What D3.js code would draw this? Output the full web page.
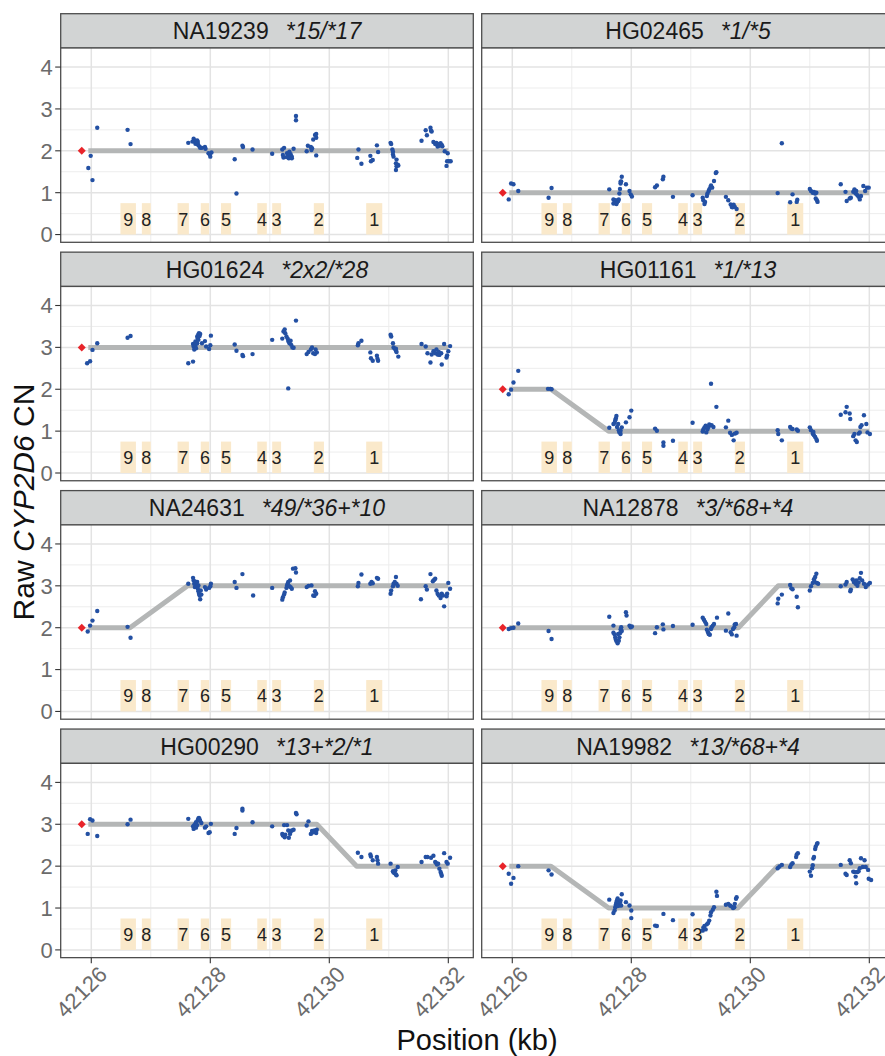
<!DOCTYPE html>
<html>
<head>
<meta charset="utf-8">
<script src="https://cdn.jsdelivr.net/npm/d3@7"></script>
<style>
  body { margin: 0; background: #fff; }
  svg { font-family: "Liberation Sans", Arial, sans-serif; }
</style>
</head>
<body>
<div id="chart"></div>
<script>
let samples = ['NA19239', 'HG02465', 'HG01624', 'HG01161', 'NA24631', 'NA12878', 'HG00290', 'NA19982']
let genotypes = ['*15/*17', '*1/*5', '*2x2/*28', '*1/*13', '*49/*36+*10', '*3/*68+*4', '*13+*2/*1', '*13/*68+*4']

let exonLabels = ['9', '8', '7', '6', '5', '4', '3', '2', '1']
let exonStart = [42126.49, 42126.85, 42127.45, 42127.84, 42128.18, 42128.79, 42129.04, 42129.74, 42130.62]
let exonEnd = [42126.75, 42127.00, 42127.64, 42127.98, 42128.35, 42128.95, 42129.19, 42129.91, 42130.89]
let exonTop = 0.75

let xTicks = [42126, 42128, 42130, 42132]
let xMinor = [42127, 42129, 42131]
let yTicks = [0, 1, 2, 3, 4]
let yMinor = [0.5, 1.5, 2.5, 3.5]

let diamondPos = 42125.84

// copy number calls (breakpoints of the grey line)
let cnCalls = [
    [[42125.95, 2], [42132, 2]],
    [[42125.95, 1], [42132, 1]],
    [[42125.95, 3], [42132, 3]],
    [[42125.95, 2], [42126.65, 2], [42127.62, 1], [42132, 1]],
    [[42125.95, 2], [42126.65, 2], [42127.62, 3], [42132, 3]],
    [[42125.95, 2], [42129.80, 2], [42130.47, 3], [42132, 3]],
    [[42125.95, 3], [42129.79, 3], [42130.46, 2], [42132, 2]],
    [[42125.95, 2], [42126.65, 2], [42127.62, 1], [42129.79, 1], [42130.46, 2], [42132, 2]]
]

let ptsNA19239 = [[42125.95,1.59],[42125.99,1.88],[42126.02,1.30],[42126.10,2.55],[42126.61,2.50],[42126.66,2.16],[42127.63,2.19],[42127.72,2.29],[42127.74,2.25],[42127.75,2.21],[42127.77,2.19],[42127.79,2.16],[42127.80,2.13],[42127.82,2.10],[42127.83,2.07],[42127.75,2.17],[42127.78,2.25],[42127.70,2.22],[42127.79,2.21],[42127.86,2.07],[42127.91,2.09],[42127.92,2.05],[42127.97,1.94],[42127.99,1.92],[42128.00,1.86],[42128.02,1.96],[42128.41,1.80],[42128.44,0.98],[42128.54,2.12],[42128.55,2.09],[42128.71,2.03],[42129.04,1.93],[42129.21,2.03],[42129.24,2.07],[42129.22,1.90],[42129.23,1.84],[42129.29,1.94],[42129.31,1.87],[42129.33,1.98],[42129.35,1.92],[42129.37,1.86],[42129.32,1.82],[42129.28,1.85],[42129.37,1.82],[42129.40,2.05],[42129.44,2.83],[42129.44,2.73],[42129.62,1.99],[42129.64,2.12],[42129.69,2.09],[42129.70,2.02],[42129.71,2.06],[42129.73,2.27],[42129.76,2.38],[42129.78,2.40],[42129.78,2.31],[42129.78,1.89],[42130.49,2.03],[42130.47,1.83],[42130.54,1.69],[42130.69,1.88],[42130.70,1.75],[42130.73,1.78],[42130.80,2.13],[42130.82,1.97],[42131.03,2.19],[42131.04,2.16],[42131.06,2.03],[42131.07,1.98],[42131.07,1.91],[42131.08,1.86],[42131.12,1.70],[42131.13,1.63],[42131.15,1.67],[42131.12,1.54],[42131.13,1.79],[42131.16,1.65],[42131.55,2.24],[42131.62,2.49],[42131.64,2.37],[42131.70,2.55],[42131.71,2.48],[42131.72,2.46],[42131.75,2.21],[42131.78,2.16],[42131.80,2.19],[42131.82,2.10],[42131.83,2.16],[42131.85,2.12],[42131.87,2.18],[42131.89,2.14],[42131.90,2.11],[42131.94,1.99],[42131.99,1.94],[42131.98,1.75],[42131.97,1.64],[42132.01,1.75],[42132.04,1.75]]

let ptsHG02465 = [[42125.94,0.84],[42125.98,1.22],[42126.02,1.20],[42126.10,1.04],[42126.61,0.88],[42126.66,1.11],[42127.63,1.08],[42127.70,0.84],[42127.72,0.78],[42127.74,0.82],[42127.76,0.77],[42127.78,0.80],[42127.70,0.74],[42127.75,0.73],[42127.79,0.84],[42127.80,0.98],[42127.81,1.09],[42127.82,1.22],[42127.83,1.27],[42127.84,1.38],[42127.82,1.26],[42127.91,1.20],[42127.97,1.04],[42127.99,0.96],[42128.01,0.91],[42128.40,1.13],[42128.43,1.17],[42128.53,1.32],[42128.54,1.38],[42128.70,0.90],[42129.03,0.94],[42129.20,0.88],[42129.21,0.82],[42129.23,0.73],[42129.24,0.78],[42129.27,0.92],[42129.28,0.98],[42129.30,1.04],[42129.31,1.08],[42129.33,1.13],[42129.34,1.17],[42129.36,1.12],[42129.39,1.28],[42129.42,1.47],[42129.43,1.49],[42129.59,0.90],[42129.63,0.82],[42129.67,0.72],[42129.69,0.66],[42129.72,0.71],[42129.74,0.66],[42129.77,0.61],[42129.70,0.65],[42130.53,2.18],[42130.46,0.99],[42130.67,0.77],[42130.71,0.96],[42130.78,0.78],[42130.79,0.83],[42131.00,1.09],[42131.02,1.04],[42131.05,1.00],[42131.07,1.02],[42131.09,0.98],[42131.11,1.00],[42131.10,0.86],[42131.12,0.82],[42131.13,0.78],[42131.52,1.20],[42131.60,1.02],[42131.62,0.80],[42131.67,0.86],[42131.69,0.88],[42131.73,1.02],[42131.75,1.08],[42131.77,0.98],[42131.78,1.04],[42131.80,0.94],[42131.82,0.90],[42131.84,0.84],[42131.86,0.92],[42131.90,1.16],[42131.93,1.04],[42131.96,1.12],[42131.99,1.12]]

let ptsHG01624 = [[42125.93,2.62],[42125.98,2.67],[42126.02,2.94],[42126.10,3.10],[42126.61,3.23],[42126.66,3.27],[42127.63,2.62],[42127.71,2.66],[42127.71,3.08],[42127.72,3.02],[42127.73,2.95],[42127.75,3.14],[42127.75,3.04],[42127.76,2.98],[42127.78,3.26],[42127.79,3.22],[42127.80,3.31],[42127.81,3.34],[42127.82,3.27],[42127.83,3.32],[42127.80,3.18],[42127.78,3.10],[42127.86,3.10],[42127.91,3.15],[42127.93,3.02],[42127.98,2.96],[42128.01,3.28],[42128.00,3.05],[42128.41,3.07],[42128.44,2.92],[42128.54,2.82],[42128.55,2.79],[42128.71,2.84],[42129.04,3.18],[42129.21,3.21],[42129.23,3.38],[42129.25,3.43],[42129.26,3.34],[42129.28,3.26],[42129.30,3.21],[42129.31,3.15],[42129.33,3.10],[42129.35,3.16],[42129.36,3.06],[42129.38,3.00],[42129.40,2.99],[42129.31,2.02],[42129.44,3.64],[42129.62,2.84],[42129.65,2.89],[42129.69,2.95],[42129.71,3.00],[42129.73,2.86],[42129.77,2.95],[42129.79,2.88],[42129.76,2.84],[42130.48,3.05],[42130.49,3.10],[42130.54,3.16],[42130.69,2.88],[42130.70,2.74],[42130.73,2.68],[42130.80,2.80],[42130.81,2.73],[42130.82,2.68],[42131.03,3.30],[42131.04,3.26],[42131.07,3.10],[42131.08,3.00],[42131.10,2.97],[42131.12,2.92],[42131.13,2.89],[42131.16,2.78],[42131.12,2.97],[42131.55,3.08],[42131.62,3.02],[42131.65,2.86],[42131.70,2.64],[42131.72,2.83],[42131.75,2.91],[42131.78,2.86],[42131.80,2.95],[42131.82,2.83],[42131.84,2.89],[42131.85,2.82],[42131.88,2.86],[42131.89,2.59],[42131.93,3.08],[42131.97,2.76],[42131.98,2.81],[42132.00,2.91],[42132.03,3.03]]

let ptsHG01161 = [[42125.94,1.88],[42125.98,1.99],[42126.02,2.16],[42126.10,2.44],[42126.60,2.01],[42126.64,2.01],[42126.66,2.00],[42127.63,1.08],[42127.70,1.17],[42127.72,1.20],[42127.74,1.30],[42127.75,1.36],[42127.73,1.26],[42127.76,1.10],[42127.78,1.17],[42127.79,1.02],[42127.80,0.97],[42127.82,0.93],[42127.82,1.01],[42127.84,1.09],[42127.91,1.21],[42127.97,1.33],[42128.00,1.49],[42128.40,1.06],[42128.43,1.01],[42128.54,0.73],[42128.54,0.65],[42128.70,0.77],[42129.03,1.20],[42129.20,0.99],[42129.21,1.04],[42129.23,1.09],[42129.25,1.13],[42129.26,0.97],[42129.28,1.04],[42129.30,1.10],[42129.31,1.16],[42129.34,2.13],[42129.35,1.14],[42129.38,1.10],[42129.43,1.58],[42129.59,1.09],[42129.63,1.25],[42129.66,0.96],[42129.69,0.91],[42129.72,0.78],[42129.74,0.94],[42129.77,0.96],[42130.46,1.02],[42130.47,0.93],[42130.53,0.78],[42130.67,1.10],[42130.69,1.06],[42130.71,1.05],[42130.78,1.04],[42130.80,1.01],[42131.00,1.09],[42131.02,1.02],[42131.05,0.94],[42131.07,0.90],[42131.09,0.86],[42131.11,0.81],[42131.12,0.77],[42131.06,0.98],[42131.52,1.39],[42131.60,1.45],[42131.62,1.58],[42131.67,1.42],[42131.68,1.29],[42131.73,0.88],[42131.75,0.93],[42131.77,0.78],[42131.79,0.74],[42131.82,0.94],[42131.84,0.97],[42131.85,1.10],[42131.87,1.14],[42131.91,1.38],[42131.95,1.17],[42131.97,0.97],[42132.01,0.93]]

let ptsNA24631 = [[42125.94,1.91],[42125.98,2.05],[42126.02,2.17],[42126.10,2.40],[42126.61,2.02],[42126.66,1.76],[42127.63,3.05],[42127.71,3.19],[42127.72,3.13],[42127.73,3.05],[42127.74,2.97],[42127.75,3.10],[42127.76,3.03],[42127.78,2.99],[42127.79,2.93],[42127.80,2.87],[42127.81,2.81],[42127.82,2.77],[42127.83,2.68],[42127.84,2.89],[42127.85,2.79],[42127.80,3.01],[42127.78,3.09],[42127.91,2.97],[42127.93,2.91],[42127.98,2.95],[42128.00,2.99],[42128.01,3.05],[42128.41,3.09],[42128.44,2.95],[42128.54,3.28],[42128.72,2.77],[42129.04,2.95],[42129.21,2.67],[42129.22,2.73],[42129.24,2.79],[42129.25,2.84],[42129.28,2.95],[42129.29,3.01],[42129.30,3.05],[42129.31,3.09],[42129.34,3.13],[42129.35,2.97],[42129.37,2.93],[42129.39,3.41],[42129.43,3.42],[42129.44,3.32],[42129.33,2.99],[42129.62,2.97],[42129.65,3.00],[42129.70,3.01],[42129.73,2.77],[42129.76,2.87],[42129.78,2.81],[42129.75,2.76],[42130.48,2.99],[42130.49,3.07],[42130.54,3.27],[42130.69,3.05],[42130.71,3.09],[42130.73,3.06],[42130.80,3.19],[42130.82,3.17],[42131.03,2.81],[42131.04,2.89],[42131.07,2.99],[42131.08,3.05],[42131.10,3.09],[42131.12,3.21],[42131.13,3.05],[42131.15,3.00],[42131.54,2.68],[42131.62,2.99],[42131.64,2.91],[42131.70,3.28],[42131.74,3.11],[42131.76,3.14],[42131.78,3.17],[42131.80,2.89],[42131.82,2.81],[42131.84,2.77],[42131.87,2.71],[42131.89,2.81],[42131.91,2.77],[42131.93,2.51],[42131.97,2.75],[42131.98,2.81],[42132.00,3.07],[42132.03,2.93]]

let ptsNA12878 = [[42125.94,1.97],[42125.98,1.99],[42126.02,2.00],[42126.10,2.10],[42126.61,1.92],[42126.66,1.73],[42127.63,2.26],[42127.70,2.05],[42127.70,1.88],[42127.72,1.84],[42127.73,1.77],[42127.74,1.72],[42127.75,1.68],[42127.77,1.63],[42127.79,1.69],[42127.80,1.77],[42127.81,1.87],[42127.82,1.96],[42127.83,2.01],[42127.84,1.92],[42127.78,1.85],[42127.91,2.37],[42127.92,2.29],[42127.97,2.05],[42127.99,2.01],[42128.01,2.03],[42128.40,1.87],[42128.43,2.01],[42128.53,2.08],[42128.54,1.96],[42128.70,2.04],[42129.03,2.07],[42129.20,2.24],[42129.22,2.19],[42129.24,2.14],[42129.26,2.09],[42129.27,1.95],[42129.29,1.89],[42129.30,1.85],[42129.32,1.83],[42129.34,1.97],[42129.35,2.01],[42129.37,2.05],[42129.39,2.09],[42129.44,2.24],[42129.59,1.93],[42129.63,2.34],[42129.67,1.89],[42129.69,1.84],[42129.71,1.97],[42129.73,2.01],[42129.74,2.08],[42129.76,2.09],[42129.77,1.81],[42130.46,2.58],[42130.47,2.69],[42130.53,2.79],[42130.67,3.02],[42130.69,2.94],[42130.71,2.92],[42130.78,2.74],[42130.80,2.49],[42131.00,2.89],[42131.02,2.99],[42131.05,3.07],[42131.07,3.16],[42131.09,3.21],[42131.11,3.29],[42131.08,3.10],[42131.12,3.07],[42131.14,3.05],[42131.52,2.99],[42131.60,3.03],[42131.62,3.09],[42131.68,2.87],[42131.69,2.91],[42131.72,3.15],[42131.74,3.09],[42131.77,3.05],[42131.78,3.13],[42131.80,3.00],[42131.82,3.08],[42131.84,3.18],[42131.86,3.31],[42131.88,3.13],[42131.91,3.05],[42131.94,2.97],[42131.98,3.03],[42132.01,3.07]]

let ptsHG00290 = [[42125.94,2.77],[42125.98,3.12],[42126.02,3.09],[42126.10,2.72],[42126.61,3.00],[42126.66,3.11],[42127.63,3.13],[42127.71,2.95],[42127.72,2.89],[42127.73,2.98],[42127.74,2.93],[42127.75,3.01],[42127.76,3.05],[42127.78,2.98],[42127.79,3.10],[42127.80,3.14],[42127.81,3.15],[42127.82,3.12],[42127.83,3.08],[42127.85,3.03],[42127.76,2.92],[42127.91,2.92],[42127.93,2.95],[42127.97,2.79],[42127.99,2.81],[42128.01,3.01],[42128.41,2.77],[42128.44,2.91],[42128.54,3.37],[42128.54,3.33],[42128.71,3.05],[42129.04,2.95],[42129.21,2.77],[42129.22,2.73],[42129.24,2.98],[42129.25,2.69],[42129.26,2.75],[42129.29,2.98],[42129.31,2.85],[42129.32,2.68],[42129.34,2.77],[42129.35,2.83],[42129.37,2.85],[42129.40,2.87],[42129.44,3.27],[42129.45,3.24],[42129.62,2.97],[42129.65,3.07],[42129.69,2.77],[42129.71,2.84],[42129.73,2.81],[42129.75,2.85],[42129.78,2.79],[42129.79,2.87],[42130.48,2.32],[42130.54,2.22],[42130.69,2.28],[42130.70,2.23],[42130.73,2.14],[42130.80,2.22],[42130.81,2.14],[42130.82,2.06],[42131.03,2.06],[42131.07,1.88],[42131.08,1.85],[42131.10,1.83],[42131.12,1.80],[42131.13,1.78],[42131.15,1.98],[42131.11,1.90],[42131.55,2.10],[42131.62,2.22],[42131.65,2.22],[42131.71,2.20],[42131.75,2.25],[42131.78,2.10],[42131.80,2.07],[42131.81,2.04],[42131.83,2.06],[42131.85,1.94],[42131.87,1.86],[42131.89,1.77],[42131.88,1.82],[42131.93,2.31],[42131.97,2.10],[42131.99,2.06],[42132.03,2.20]]

let ptsNA19982 = [[42125.94,1.82],[42125.98,1.58],[42126.02,1.72],[42126.10,2.00],[42126.61,1.90],[42126.66,1.80],[42127.63,1.20],[42127.70,0.88],[42127.72,0.94],[42127.73,1.02],[42127.74,1.08],[42127.75,1.14],[42127.76,1.18],[42127.77,1.23],[42127.79,1.12],[42127.80,1.06],[42127.81,1.13],[42127.82,1.18],[42127.83,1.06],[42127.84,1.33],[42127.77,1.05],[42127.91,1.14],[42127.97,1.06],[42128.00,0.94],[42128.00,0.76],[42128.40,0.58],[42128.43,0.57],[42128.54,0.86],[42128.70,0.71],[42129.03,0.85],[42129.20,0.46],[42129.21,0.53],[42129.23,0.57],[42129.25,0.49],[42129.27,0.61],[42129.29,0.64],[42129.31,0.70],[42129.33,0.82],[42129.34,0.90],[42129.37,0.96],[42129.39,1.02],[42129.43,1.39],[42129.44,1.29],[42129.59,1.08],[42129.63,1.10],[42129.66,1.06],[42129.68,1.04],[42129.71,1.00],[42129.73,1.02],[42129.74,1.10],[42129.76,1.22],[42129.77,1.26],[42130.46,1.95],[42130.49,1.99],[42130.53,2.03],[42130.67,1.98],[42130.69,2.04],[42130.71,2.07],[42130.77,2.22],[42130.78,2.28],[42130.80,2.31],[42131.00,1.87],[42131.02,1.77],[42131.04,1.95],[42131.05,2.02],[42131.06,2.18],[42131.07,2.22],[42131.09,2.41],[42131.10,2.47],[42131.12,2.53],[42131.13,2.55],[42131.52,2.03],[42131.60,1.82],[42131.62,1.79],[42131.67,2.14],[42131.69,2.07],[42131.73,1.87],[42131.75,1.86],[42131.77,1.75],[42131.78,1.59],[42131.80,1.86],[42131.82,1.88],[42131.84,1.95],[42131.86,2.19],[42131.89,1.98],[42131.92,2.14],[42131.94,1.98],[42131.98,1.91],[42131.99,1.70],[42132.03,1.67]]

let panelPoints = [ptsNA19239, ptsHG02465, ptsHG01624, ptsHG01161, ptsNA24631, ptsNA12878, ptsHG00290, ptsNA19982]

const W = 885, H = 1056
const colX = [60.7, 481.7]
const panelW = 412.6
const rowTop = 13.7, rowStep = 238.45
const stripH = 34.3, plotH = 194.3

const svg = d3.select('#chart').append('svg')
    .attr('width', W).attr('height', H)

const x = d3.scaleLinear().domain([42125.486, 42132.42]).range([0, panelW])
const y = d3.scaleLinear().domain([-0.185, 4.455]).range([plotH, 0])

const line = d3.line().x(d => x(d[0])).y(d => y(d[1]))

samples.forEach((s, i) => {
    let col = i % 2, row = Math.floor(i / 2)
    let gx = colX[col], gy = rowTop + row * rowStep

    // strip
    let strip = svg.append('g').attr('transform', `translate(${gx}, ${gy})`)
    strip.append('rect')
        .attr('width', panelW).attr('height', stripH)
        .attr('fill', '#d2d4d4').attr('stroke', '#4d4d4d').attr('stroke-width', 1.3)
    let st = strip.append('text')
        .attr('x', panelW / 2).attr('y', 25.5)
        .attr('text-anchor', 'middle')
        .style('font-size', '23px').attr('fill', '#1a1a1a')
    st.append('tspan').text(s)
    st.append('tspan').attr('dx', 17).style('font-style', 'italic').text(genotypes[i])

    // panel
    let g = svg.append('g').attr('transform', `translate(${gx}, ${gy + stripH})`)
    g.append('rect').attr('width', panelW).attr('height', plotH).attr('fill', '#fff')

    g.selectAll('.ymin').data(yMinor).join('line')
        .attr('x1', 0).attr('x2', panelW)
        .attr('y1', d => y(d)).attr('y2', d => y(d))
        .attr('stroke', '#ededed').attr('stroke-width', 1)
    g.selectAll('.xmin').data(xMinor).join('line')
        .attr('y1', 0).attr('y2', plotH)
        .attr('x1', d => x(d)).attr('x2', d => x(d))
        .attr('stroke', '#ededed').attr('stroke-width', 1)
    g.selectAll('.ymaj').data(yTicks).join('line')
        .attr('x1', 0).attr('x2', panelW)
        .attr('y1', d => y(d)).attr('y2', d => y(d))
        .attr('stroke', '#e3e3e3').attr('stroke-width', 1.5)
    g.selectAll('.xmaj').data(xTicks).join('line')
        .attr('y1', 0).attr('y2', plotH)
        .attr('x1', d => x(d)).attr('x2', d => x(d))
        .attr('stroke', '#e3e3e3').attr('stroke-width', 1.5)

    // exons
    g.selectAll('.exon').data(exonLabels).join('rect')
        .attr('x', (d, j) => x(exonStart[j]))
        .attr('width', (d, j) => x(exonEnd[j]) - x(exonStart[j]))
        .attr('y', y(exonTop)).attr('height', y(0) - y(exonTop))
        .attr('fill', '#fae9cb')
    g.selectAll('.exlab').data(exonLabels).join('text')
        .attr('x', (d, j) => x((exonStart[j] + exonEnd[j]) / 2))
        .attr('y', y(0.37)).attr('dy', '0.36em')
        .attr('text-anchor', 'middle')
        .style('font-size', '18px').attr('fill', '#222')
        .text(d => d)

    // copy number call
    g.append('path').datum(cnCalls[i])
        .attr('d', line)
        .attr('fill', 'none').attr('stroke', '#b4b6b6')
        .attr('stroke-width', 5).attr('stroke-linejoin', 'round')

    g.selectAll('.pt').data(panelPoints[i]).join('circle')
        .attr('cx', d => x(d[0])).attr('cy', d => y(d[1]))
        .attr('r', 2.2).attr('fill', '#2350a3')

    g.append('path')
        .attr('d', d3.symbol(d3.symbolSquare, 32)())
        .attr('transform', `translate(${x(diamondPos)}, ${y(cnCalls[i][0][1])}) rotate(45)`)
        .attr('fill', '#e8242a')

    g.append('rect').attr('width', panelW).attr('height', plotH)
        .attr('fill', 'none').attr('stroke', '#4d4d4d').attr('stroke-width', 1.3)

    // y axis on left column
    if (col === 0) {
        g.selectAll('.ytk').data(yTicks).join('line')
            .attr('x1', -5.5).attr('x2', 0)
            .attr('y1', d => y(d)).attr('y2', d => y(d))
            .attr('stroke', '#333').attr('stroke-width', 1.1)
        g.selectAll('.ylab').data(yTicks).join('text')
            .attr('x', -8).attr('y', d => y(d)).attr('dy', '0.36em')
            .attr('text-anchor', 'end')
            .style('font-size', '22px').attr('fill', '#6b6b6b')
            .text(d => d)
    }
    // x axis on bottom row
    if (row === 3) {
        g.selectAll('.xtk').data(xTicks).join('line')
            .attr('y1', plotH).attr('y2', plotH + 5.5)
            .attr('x1', d => x(d)).attr('x2', d => x(d))
            .attr('stroke', '#333').attr('stroke-width', 1.1)
        g.selectAll('.xlab').data(xTicks).join('text')
            .attr('transform', d => `translate(${x(d) + 6}, ${plotH + 7}) rotate(-45)`)
            .attr('dy', '0.72em')
            .attr('text-anchor', 'end')
            .style('font-size', '22px').attr('fill', '#6b6b6b')
            .text(d => d)
    }
})

svg.append('text')
    .attr('x', 477).attr('y', 1050)
    .attr('text-anchor', 'middle')
    .style('font-size', '29px').attr('fill', '#111')
    .text('Position (kb)')

let yt = svg.append('text')
    .attr('transform', 'translate(34, 502) rotate(-90)')
    .attr('text-anchor', 'middle')
    .style('font-size', '30px').attr('fill', '#111')
yt.append('tspan').text('Raw ')
yt.append('tspan').style('font-style', 'italic').text('CYP2D6')
yt.append('tspan').text(' CN')
</script>
</body>
</html>
